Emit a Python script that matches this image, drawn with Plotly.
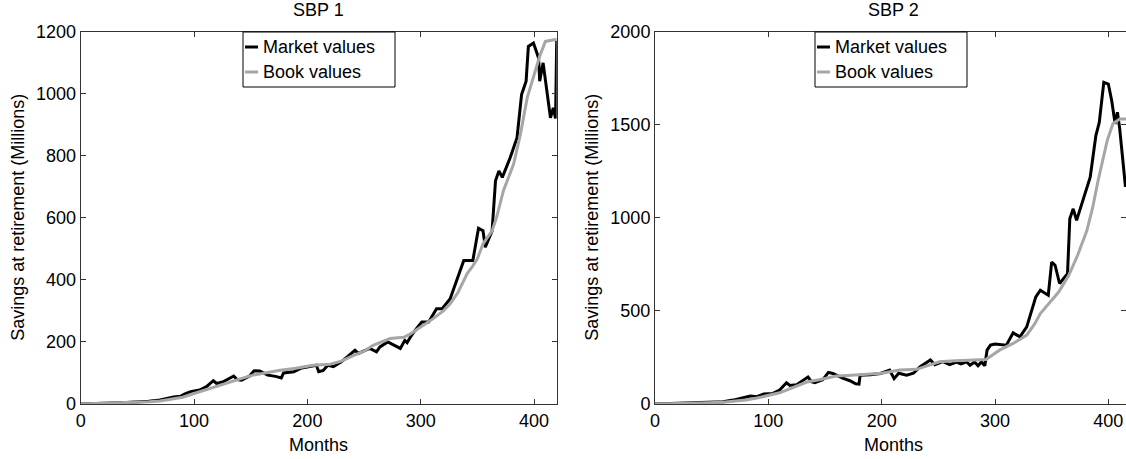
import plotly.graph_objects as go

W, H = 1126, 459

# ---------------- data ----------------
sbp1_market_months = [0, 20, 40, 60, 70, 76, 82, 88, 92, 97, 105, 111, 117, 120, 126, 131, 135, 138, 142,
                      149, 153, 158, 165, 172, 177, 179, 188, 194, 200, 205, 208, 210, 214, 218, 223,
                      230, 235, 242, 245, 250, 255, 261, 264, 271, 276, 282, 286, 288, 291, 295, 301,
                      307, 314, 319, 326, 332, 338, 346, 351, 355, 357, 363, 366, 369, 372, 379, 385,
                      389, 393, 395, 399.5, 404, 405, 408, 413, 414.5, 417, 419, 420]
sbp1_market_values = [0, 2, 5, 9, 13, 18, 23, 25, 33, 40, 45, 56, 75, 66, 72, 82, 90, 79, 77,
                      90, 107, 106, 93, 89, 84, 100, 104, 115, 120, 122, 125, 104, 108, 125, 120,
                      136, 152, 173, 163, 170, 179, 168, 184, 200, 190, 179, 205, 198, 216, 237, 264,
                      264, 307, 307, 339, 400, 462, 462, 566, 558, 505, 558, 719, 751, 730, 794, 858,
                      997, 1040, 1152, 1163, 1115, 1040, 1099, 965, 922, 954, 920, 1170]

sbp1_book_months = [0, 20, 40, 60, 70, 80, 90, 100, 117, 130, 140, 152, 165, 176, 190, 205, 220,
                    230, 240, 250, 258, 265, 273, 285, 291, 300, 311, 320, 326, 333, 341, 346, 350,
                    355, 363, 367, 373, 382, 388, 394, 400, 405, 410, 420]
sbp1_book_values = [0, 2, 4, 7, 10, 15, 22, 34, 54, 70, 80, 93, 103, 109, 115, 125, 128,
                    138, 155, 170, 189, 200, 211, 215, 226, 248, 275, 300, 323, 360, 420, 445, 468,
                    516, 558, 601, 687, 773, 869, 987, 1062, 1120, 1168, 1175]

sbp2_market_months = [0, 20, 40, 60, 69, 78, 84, 90, 96, 104, 110, 116, 119, 125, 135, 138, 141, 148,
                      153, 157, 165, 172, 177, 180, 181, 190, 199, 207, 211, 215, 222, 228, 234, 243,
                      247, 254, 260, 266, 270, 275, 278, 282, 285, 288, 291, 293, 296, 300, 310, 316,
                      322, 328, 336, 340, 347, 350, 353, 357, 364, 366, 369, 372, 384, 389, 392, 396,
                      400, 403, 406, 408, 410, 415, 420]
sbp2_market_values = [0, 3, 6, 12, 21, 36, 43, 39, 54, 57, 75, 114, 100, 104, 145, 120, 114, 130,
                      170, 164, 140, 125, 108, 107, 155, 157, 164, 182, 136, 165, 155, 165, 200, 236,
                      211, 227, 211, 225, 215, 226, 208, 225, 205, 226, 205, 289, 316, 322, 316, 382,
                      361, 414, 575, 611, 584, 762, 745, 647, 700, 995, 1048, 986, 1218, 1441, 1512, 1727,
                      1718, 1628, 1504, 1566, 1480, 1173, 1170]

sbp2_book_months = [0, 20, 40, 60, 70, 80, 90, 100, 110, 116, 125, 134, 145, 160, 170, 181, 190, 200,
                    216, 231, 240, 251, 265, 280, 292, 304, 316, 328, 335, 340, 349, 356, 365, 373,
                    381, 386, 391, 395, 399, 404, 410, 420]
sbp2_book_values = [0, 2, 5, 10, 15, 22, 32, 45, 60, 75, 98, 118, 130, 150, 153, 157, 161, 165,
                    182, 186, 205, 227, 232, 236, 239, 289, 325, 370, 430, 486, 548, 600, 690, 800,
                    930, 1050, 1200, 1300, 1414, 1505, 1530, 1530]

x_ticks = [0, 100, 200, 300, 400]
y1_ticks = [0, 200, 400, 600, 800, 1000, 1200]
y2_ticks = [0, 500, 1000, 1500, 2000]
titles = ["SBP 1", "SBP 2"]
x_label = "Months"
y_label = "Savings at retirement (Millions)"
series_names = ["Market values", "Book values"]

# ---------------- layout geometry ----------------
FONT = "Liberation Sans, Arial, Helvetica, sans-serif"
FS = 18
BLACK = "#000000"
GRAY = "#A6A6A6"
AXC = "#333333"
colors = [BLACK, GRAY]

L1, R1 = 80.7, 556.7
L2, R2 = 655.0, 1126.0
TOP, BOT = 31.5, 404.0

def px(x):
    return x / W

def py(y):
    return 1 - y / H

fig = go.Figure()

fig.add_trace(go.Scatter(x=sbp1_market_months, y=sbp1_market_values, mode="lines", name=series_names[0],
                         line=dict(color=BLACK, width=3), xaxis="x", yaxis="y", showlegend=False))
fig.add_trace(go.Scatter(x=sbp1_book_months, y=sbp1_book_values, mode="lines", name=series_names[1],
                         line=dict(color=GRAY, width=3), xaxis="x", yaxis="y", showlegend=False))
fig.add_trace(go.Scatter(x=sbp2_market_months, y=sbp2_market_values, mode="lines", name=series_names[0],
                         line=dict(color=BLACK, width=3), xaxis="x2", yaxis="y2", showlegend=False))
fig.add_trace(go.Scatter(x=sbp2_book_months, y=sbp2_book_values, mode="lines", name=series_names[1],
                         line=dict(color=GRAY, width=3), xaxis="x2", yaxis="y2", showlegend=False))

axis_common = dict(showline=True, linecolor=AXC, linewidth=1, mirror="ticks", ticks="inside",
                   ticklen=5, tickcolor=AXC, showgrid=False, zeroline=False,
                   tickfont=dict(family=FONT, size=FS, color="#000000"), automargin=False)

x2_max = 420 * (R2 - L2) / (R1 - L1)

fig.update_layout(
    width=W, height=H,
    margin=dict(l=0, r=0, t=0, b=0),
    paper_bgcolor="white", plot_bgcolor="white",
    font=dict(family=FONT, size=FS, color="#000000"),
    xaxis=dict(domain=[px(L1), px(R1)], range=[0, 420], tickvals=x_ticks, anchor="y", **axis_common),
    yaxis=dict(domain=[py(BOT), py(TOP)], range=[0, 1200], tickvals=y1_ticks, anchor="x", **axis_common),
    xaxis2=dict(domain=[px(L2), px(R2)], range=[0, x2_max], tickvals=x_ticks, anchor="y2", **axis_common),
    yaxis2=dict(domain=[py(BOT), py(TOP)], range=[0, 2000], tickvals=y2_ticks, anchor="x2", **axis_common),
    showlegend=False,
)

annotations = []
shapes = []
for title, cx in zip(titles, [(L1 + R1) / 2, L2 + (R1 - L1) / 2]):
    annotations.append(dict(text=title, x=px(cx), y=py(10), xref="paper", yref="paper",
                            xanchor="center", yanchor="middle", showarrow=False,
                            font=dict(family=FONT, size=FS)))
    annotations.append(dict(text=x_label, x=px(cx), y=py(445), xref="paper", yref="paper",
                            xanchor="center", yanchor="middle", showarrow=False,
                            font=dict(family=FONT, size=FS)))
for lx in [18, 592]:
    annotations.append(dict(text=y_label, x=px(lx), y=py((TOP + BOT) / 2), xref="paper", yref="paper",
                            xanchor="center", yanchor="middle", showarrow=False, textangle=-90,
                            font=dict(family=FONT, size=FS)))

# legend boxes (one per panel), drawn in paper coordinates
for bx0 in [243, 815]:
    bx1 = bx0 + 152
    shapes.append(dict(type="rect", xref="paper", yref="paper", x0=px(bx0), x1=px(bx1),
                       y0=py(87), y1=py(32), line=dict(color="#000000", width=1),
                       fillcolor="white", layer="above"))
    for name, col, rowy in zip(series_names, colors, [47, 72]):
        shapes.append(dict(type="line", xref="paper", yref="paper", x0=px(bx0 + 2), x1=px(bx0 + 15),
                           y0=py(rowy), y1=py(rowy), line=dict(color=col, width=3), layer="above"))
        annotations.append(dict(text=name, x=px(bx0 + 18), y=py(rowy), xref="paper", yref="paper",
                                xanchor="left", yanchor="middle", showarrow=False,
                                font=dict(family=FONT, size=FS)))

fig.update_layout(annotations=annotations, shapes=shapes)

fig.write_html("out.html")
